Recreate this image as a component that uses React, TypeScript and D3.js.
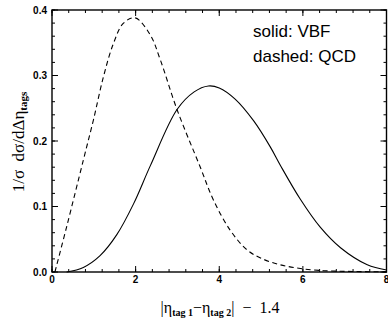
import React from "react";
import * as d3 from "d3";

const W = 388;
const H = 321;

// QCD (dashed)
const qcdX = [0.07, 0.35, 0.75, 0.99, 1.23, 1.47, 1.71, 1.99, 2.35, 2.59, 2.99, 3.54, 3.86, 4.26, 4.66, 5.0, 5.46, 5.98, 6.5, 7.0, 7.5, 8.0];
const qcdY = [0.0, 0.069, 0.171, 0.232, 0.298, 0.349, 0.380, 0.388, 0.362, 0.324, 0.248, 0.161, 0.11, 0.064, 0.034, 0.021, 0.011, 0.005, 0.002, 0.001, 0.0005, 0.0002];

// VBF (solid)
const vbfX = [0.35, 0.75, 1.15, 1.55, 1.95, 2.35, 2.99, 3.4, 3.74, 4.0, 4.38, 4.82, 5.22, 5.46, 5.94, 6.42, 6.9, 7.54, 8.0];
const vbfY = [0.0, 0.007, 0.025, 0.057, 0.104, 0.162, 0.248, 0.275, 0.284, 0.281, 0.264, 0.231, 0.191, 0.163, 0.111, 0.068, 0.037, 0.011, 0.003];

const xTicks = [0, 2, 4, 6, 8];
const yTicks = [0.0, 0.1, 0.2, 0.3, 0.4];
const legendLines = ["solid: VBF", "dashed: QCD"];

export default function App() {
  const left = 52, right = 386.5, top = 10, bottom = 272;
  const x = d3.scaleLinear().domain([0, 8]).range([left, right]);
  const y = d3.scaleLinear().domain([0, 0.4]).range([bottom, top]);

  const line = d3
    .line<[number, number]>()
    .x((d) => x(d[0]))
    .y((d) => Math.min(y(d[1]), bottom))
    .curve(d3.curveCatmullRom.alpha(0.5));

  const qcd = qcdX.map((v, i) => [v, qcdY[i]] as [number, number]);
  const vbf = vbfX.map((v, i) => [v, vbfY[i]] as [number, number]);

  const xMinor = d3.range(0, 8.0001, 0.4);
  const yMinor = d3.range(0, 0.40001, 0.02);
  const maj = 6, min = 3;
  const tickFont = "'Liberation Sans', Arial, sans-serif";
  const serif = "'Liberation Serif', 'Times New Roman', serif";

  return (
    <svg
      width={W}
      height={H}
      style={{ position: "absolute", left: 0, top: 0, background: "#fff" }}
    >
      <rect x={0} y={0} width={W} height={H} fill="#fff" />
      {xMinor.map((t, i) => (
        <g key={"xm" + i} stroke="#000" strokeWidth={1}>
          <line x1={x(t)} x2={x(t)} y1={bottom} y2={bottom - min} />
          <line x1={x(t)} x2={x(t)} y1={top} y2={top + min} />
        </g>
      ))}
      {yMinor.map((t, i) => (
        <g key={"ym" + i} stroke="#000" strokeWidth={1}>
          <line x1={left} x2={left + min} y1={y(t)} y2={y(t)} />
          <line x1={right} x2={right - min} y1={y(t)} y2={y(t)} />
        </g>
      ))}
      {xTicks.map((t) => (
        <g key={"xt" + t} stroke="#000" strokeWidth={1}>
          <line x1={x(t)} x2={x(t)} y1={bottom} y2={bottom - maj} />
          <line x1={x(t)} x2={x(t)} y1={top} y2={top + maj} />
        </g>
      ))}
      {yTicks.map((t) => (
        <g key={"yt" + t} stroke="#000" strokeWidth={1}>
          <line x1={left} x2={left + maj} y1={y(t)} y2={y(t)} />
          <line x1={right} x2={right - maj} y1={y(t)} y2={y(t)} />
        </g>
      ))}
      <rect
        x={left}
        y={top}
        width={right - left}
        height={bottom - top}
        fill="none"
        stroke="#000"
        strokeWidth={1.4}
      />
      {xTicks.map((t) => (
        <text
          key={"xl" + t}
          x={x(t)}
          y={283}
          textAnchor="middle"
          fontFamily={tickFont}
          fontWeight="bold"
          fontSize={10}
        >
          {t}
        </text>
      ))}
      {yTicks.map((t) => (
        <text
          key={"yl" + t}
          x={47}
          y={y(t) + 3.5}
          textAnchor="end"
          fontFamily={tickFont}
          fontWeight="bold"
          fontSize={10}
        >
          {t.toFixed(1)}
        </text>
      ))}
      <path d={line(vbf) || ""} fill="none" stroke="#000" strokeWidth={1.1} />
      <path
        d={line(qcd) || ""}
        fill="none"
        stroke="#000"
        strokeWidth={1.1}
        strokeDasharray="5,3.5"
      />
      {legendLines.map((s, i) => (
        <text
          key={s}
          x={253}
          y={37 + i * 25}
          fontFamily={tickFont}
          fontSize={17}
        >
          {s}
        </text>
      ))}
      <text
        transform="translate(24,142) rotate(-90)"
        textAnchor="middle"
        fontFamily={serif}
        fontSize={17}
        style={{ whiteSpace: "pre" }}
      >
        {"1/σ  dσ/dΔη"}
        <tspan fontSize={11} fontWeight="bold" dy={3}>tags</tspan>
      </text>
      <text
        x={220}
        y={313}
        textAnchor="middle"
        fontFamily={serif}
        fontSize={16}
        style={{ whiteSpace: "pre" }}
      >
        {"|η"}
        <tspan fontSize={10} fontWeight="bold" dy={3}>{"tag 1"}</tspan>
        <tspan dy={-3}>{"−η"}</tspan>
        <tspan fontSize={10} fontWeight="bold" dy={3}>{"tag 2"}</tspan>
        <tspan dy={-3}>{"|  −  1.4"}</tspan>
      </text>
    </svg>
  );
}
